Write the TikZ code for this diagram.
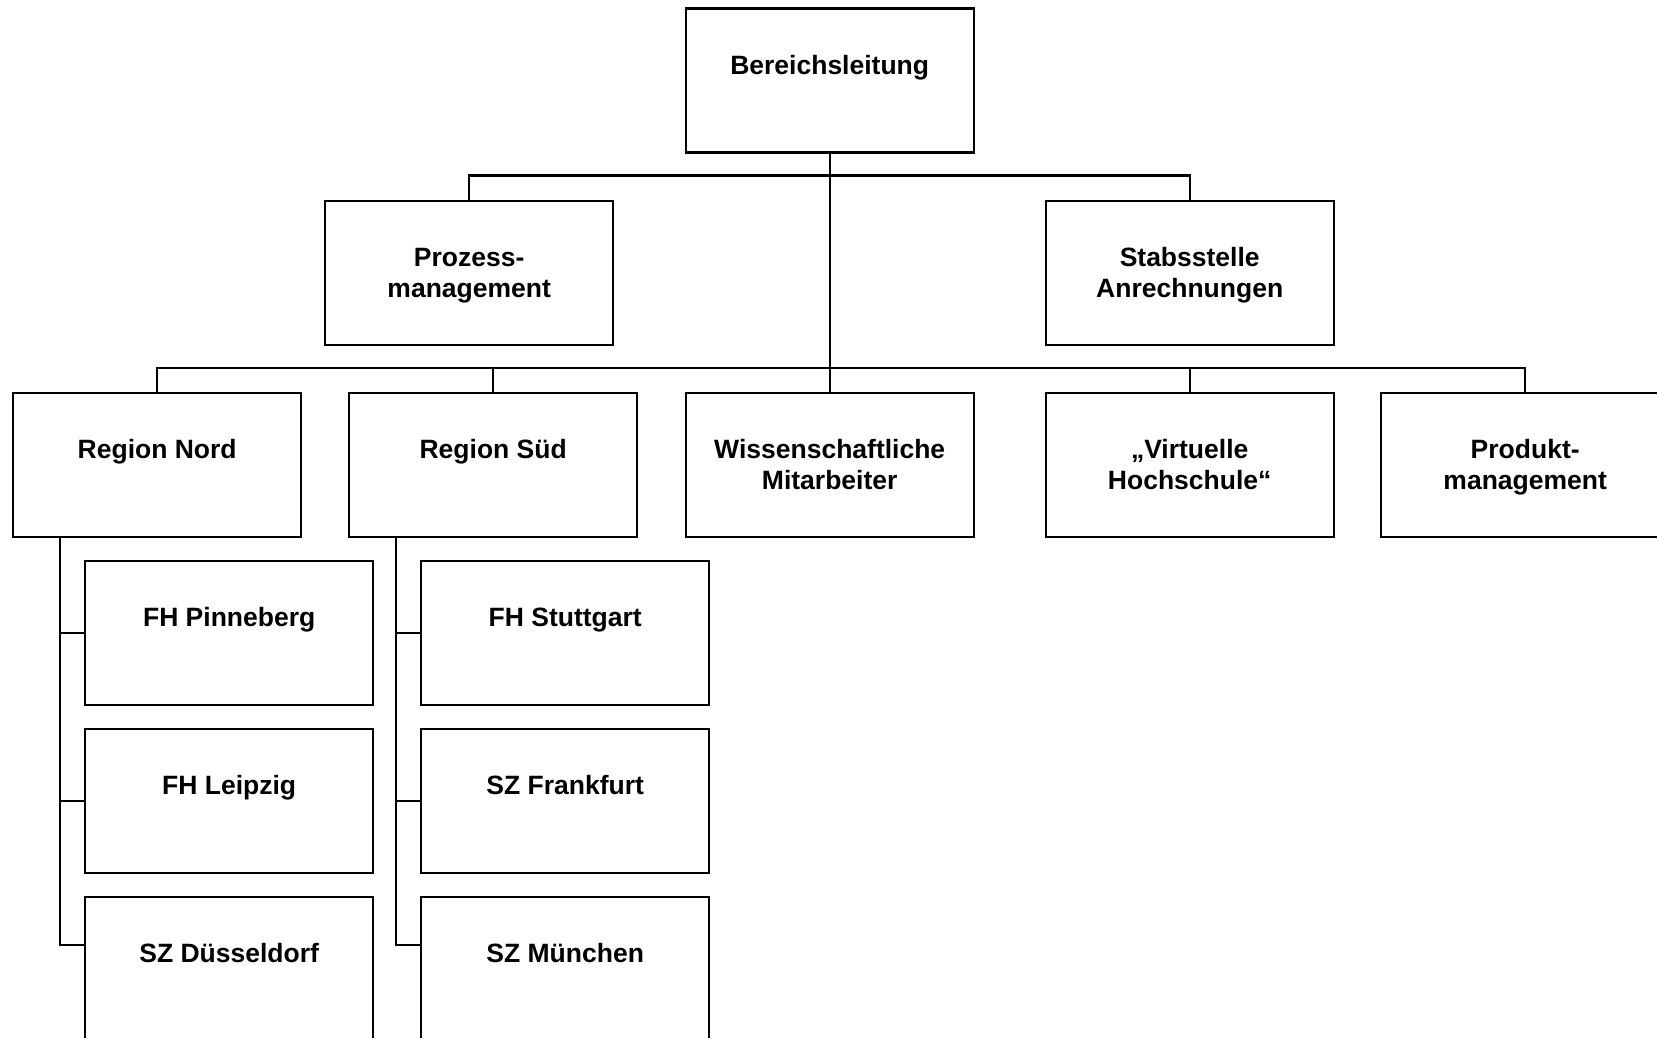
\documentclass[tikz,border=0pt]{standalone}
\usepackage{fontspec}
\setmainfont{Liberation Sans}
\newcommand{\lblfont}{\fontsize{26.5}{31}\selectfont\bfseries}
\newcommand{\lbl}[1]{\parbox[t]{282pt}{\centering\lblfont #1}}
\tikzset{
  orgbox/.style={draw, line width=2.4pt, inner sep=0pt, minimum width=288pt,
    minimum height=144pt, text height=66pt, text depth=78pt, anchor=north west},
  link/.style={line width=2.2pt}
}
\begin{document}
\begin{tikzpicture}[x=1pt,y=-1pt]
\useasboundingbox (0,0) rectangle (1657,1037);
\clip (0,0) rectangle (1657,1037);
% top
\node[orgbox] (L) at (684.5,7.4) {\lbl{Bereichsleitung}};
% row 2
\node[orgbox] (P) at (324,199.5) {\lbl{Prozess-\\management}};
\node[orgbox] (S) at (1044.5,199.5) {\lbl{Stabsstelle\\Anrechnungen}};
% row 3
\node[orgbox] (RN) at (12,391.5) {\lbl{Region Nord}};
\node[orgbox] (RS) at (348,391.5) {\lbl{Region Süd}};
\node[orgbox] (W) at (684.5,391.5) {\lbl{Wissenschaftliche\\Mitarbeiter}};
\node[orgbox] (V) at (1044.5,391.5) {\lbl{„Virtuelle\\Hochschule“}};
\node[orgbox] (PM) at (1380,391.5) {\lbl{Produkt-\\management}};
% children Nord
\node[orgbox] (N1) at (84,559.5) {\lbl{FH Pinneberg}};
\node[orgbox] (N2) at (84,727.5) {\lbl{FH Leipzig}};
\node[orgbox] (N3) at (84,895.5) {\lbl{SZ Düsseldorf}};
% children Sued
\node[orgbox] (S1) at (420,559.5) {\lbl{FH Stuttgart}};
\node[orgbox] (S2) at (420,727.5) {\lbl{SZ Frankfurt}};
\node[orgbox] (S3) at (420,895.5) {\lbl{SZ München}};
% connectors
\coordinate (h1) at (828.5,175.5);
\coordinate (h2) at (828.5,367.8);
\draw[link] (L.south) -- (W.north);
\draw[link] (P.north) |- (h1) -| (S.north);
\draw[link] (RN.north) |- (h2) -| (PM.north);
\draw[link] (RS.north) |- (h2);
\draw[link] (V.north) |- (h2);
% Nord branch
\coordinate (nt) at ([xshift=48pt]RN.south west);
\coordinate (st) at ([xshift=48pt]RS.south west);
\draw[link] (nt) |- ([yshift=24pt]N3.west);
\draw[link] (nt) |- (N1.west);
\draw[link] (nt) |- (N2.west);
\draw[link] (st) |- ([yshift=24pt]S3.west);
\draw[link] (st) |- (S1.west);
\draw[link] (st) |- (S2.west);
\end{tikzpicture}
\end{document}
